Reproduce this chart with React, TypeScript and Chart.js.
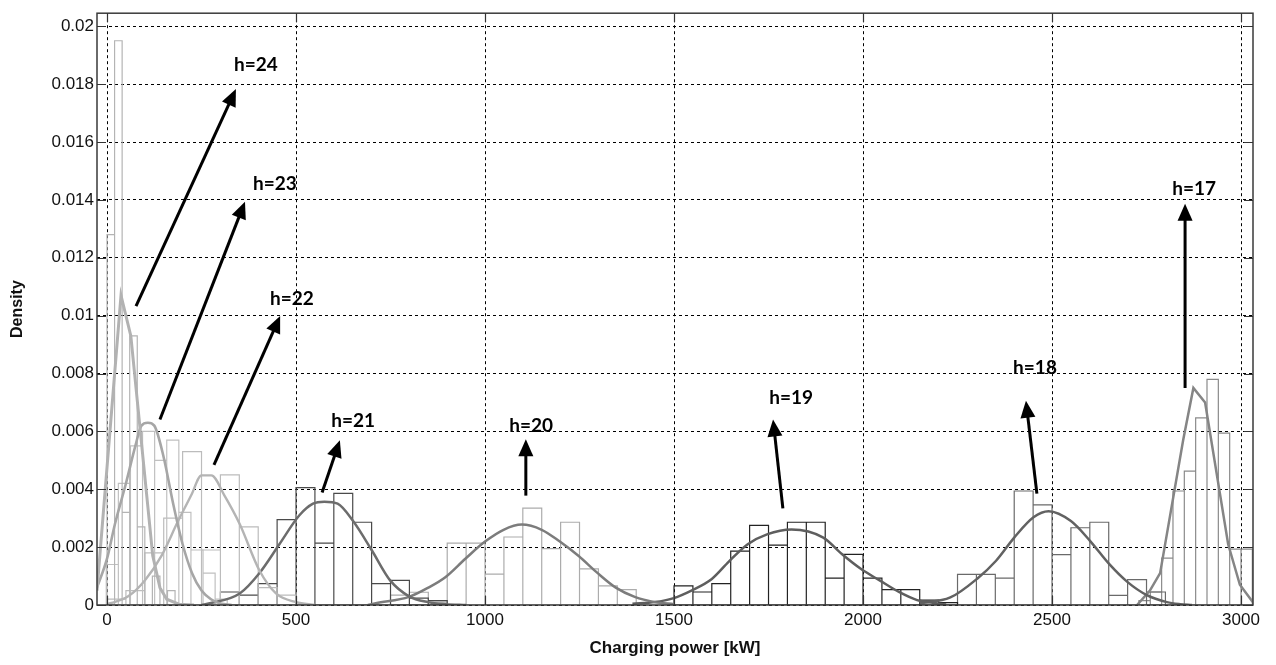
import { useEffect, useRef } from 'react';
import { Chart, registerables } from 'chart.js';

Chart.register(...registerables);

// Axis ranges and ticks
const X_MIN = -26.5;
const X_MAX = 3031.7;
const Y_MIN = 0;
const Y_MAX = 0.020453;

const xTickValues = [0, 500, 1000, 1500, 2000, 2500, 3000];
const xTickLabels = ['0', '500', '1000', '1500', '2000', '2500', '3000'];
const yTickValues = [0, 0.002, 0.004, 0.006, 0.008, 0.01, 0.012, 0.014, 0.016, 0.018, 0.02];
const yTickLabels = ['0', '0.002', '0.004', '0.006', '0.008', '0.01', '0.012', '0.014', '0.016', '0.018', '0.02'];

// Histograms per hour: first bin edge [kW], bin width [kW], densities
const hist24Start = 0;
const hist24Width = 20;
const hist24 = [0.0128, 0.0195, 0.0032, 0.0093, 0.0027, 0.0, 0.001, 0.0, 0.0005];

const hist23Start = -2;
const hist23Width = 32;
const hist23 = [0.0014, 0.0042, 0.0055, 0.006, 0.005, 0.0057, 0.0032, 0.0019, 0.0011, 0.0002];

const hist22Start = 0;
const hist22Width = 50;
const hist22 = [0.0002, 0.0005, 0.0018, 0.003, 0.0053, 0.0019, 0.0045, 0.0027, 0.0006, 0.00034];

const hist21Start = 300;
const hist21Width = 50;
const hist21 = [0.00045, 0.00034, 0.00074, 0.00295, 0.00406, 0.00214, 0.00386, 0.00286, 0.00074, 0.00085, 0.00024, 0.00015];

const hist20Start = 750;
const hist20Width = 50;
const hist20 = [0.00034, 0.00044, 0.0001, 0.00214, 0.00214, 0.00107, 0.00235, 0.00335, 0.00195, 0.00286, 0.00125, 0.00066, 0.00053];

const hist19Start = 1500;
const hist19Width = 50;
const hist19 = [0.00066, 0.00045, 0.00074, 0.00186, 0.00275, 0.00207, 0.00286, 0.00286, 0.00093, 0.00175, 0.00093, 0.00053, 0.00053, 0.00017, 0.00008];

const hist18Start = 2250;
const hist18Width = 50;
const hist18 = [0.00106, 0.00106, 0.00093, 0.00394, 0.00346, 0.00174, 0.00267, 0.00286, 0.00033, 0.00088, 0.00045];

const hist17Start = 2730;
const hist17Width = 30;
const hist17 = [0.00015, 0.00045, 0.00162, 0.00394, 0.00463, 0.00647, 0.0078, 0.00594, 0.00193, 0.00193];

// Fitted density curves per hour
const curve24X = [-26.5, 37, 63, 121, 140, 158, 190, 230];
const curve24Y = [0.0005, 0.0107, 0.0093, 0.0017, 0.0006, 0.0002, 0.00003, 0.0];

const curve23X = [-26.5, 0, 21, 50, 75, 91, 108, 125, 150, 175, 200, 225, 250, 275, 300, 330];
const curve23Y = [0.0006, 0.0016, 0.0028, 0.0042, 0.0055, 0.0062, 0.0063, 0.0062, 0.0051, 0.0035, 0.0021, 0.0011, 0.0005, 0.0002, 0.00005, 0.0];

const curve22X = [0, 12, 56, 100, 144, 188, 223, 250, 276, 310, 351, 403, 447, 500, 550];
const curve22Y = [0.00003, 0.00007, 0.0003, 0.00085, 0.0017, 0.0029, 0.0038, 0.00448, 0.00448, 0.0038, 0.0028, 0.0012, 0.0004, 0.0001, 0.0];

const curve21X = [250, 272, 351, 403, 456, 509, 545, 575, 610, 651, 700, 749, 799, 849, 895, 950];
const curve21Y = [0.0, 0.00006, 0.0004, 0.0011, 0.0021, 0.0031, 0.0035, 0.00357, 0.0035, 0.0029, 0.0019, 0.00085, 0.0003, 0.0001, 0.00003, 0.0];

const curve20X = [690, 711, 799, 850, 895, 948, 1001, 1049, 1097, 1150, 1197, 1247, 1298, 1346, 1396, 1449, 1500];
const curve20Y = [0.0, 0.00006, 0.00028, 0.0006, 0.00096, 0.0016, 0.0022, 0.0026, 0.00278, 0.0026, 0.0022, 0.0017, 0.0011, 0.0006, 0.00028, 0.0001, 0.00003];

const curve19X = [1390, 1449, 1497, 1546, 1600, 1645, 1695, 1746, 1811, 1895, 1944, 1994, 2044, 2095, 2143, 2170, 2220];
const curve19Y = [0.00004, 0.0001, 0.00023, 0.0005, 0.0009, 0.0015, 0.0021, 0.00244, 0.00261, 0.00233, 0.00176, 0.00125, 0.00085, 0.00045, 0.00017, 0.0001, 0.00002];

const curve18X = [2150, 2231, 2302, 2352, 2400, 2451, 2491, 2550, 2601, 2651, 2700, 2751, 2804, 2839, 2870];
const curve18Y = [0.00006, 0.00026, 0.00091, 0.00153, 0.00233, 0.00303, 0.00324, 0.0029, 0.00221, 0.00142, 0.00079, 0.00034, 0.0001, 0.00003, 0.0];

const curve17X = [2725, 2759, 2786, 2847, 2874, 2905, 2966, 2997, 3031];
const curve17Y = [0.0, 0.0005, 0.0011, 0.0057, 0.0075, 0.007, 0.0021, 0.0007, 0.0001];

// Hour labels with arrows, in data units
const arrowLabels = ['h=24', 'h=23', 'h=22', 'h=21', 'h=20', 'h=19', 'h=18', 'h=17'];
const arrowTailX = [76.7, 140, 283, 569, 1108, 1788, 2460, 2852];
const arrowTailY = [0.01033, 0.00641, 0.00484, 0.00389, 0.00378, 0.00334, 0.00385, 0.0075];
const arrowTipX = [341, 365, 458, 616, 1108, 1762, 2431, 2852];
const arrowTipY = [0.01783, 0.01394, 0.00999, 0.00569, 0.00573, 0.00641, 0.00706, 0.01387];
const labelX = [394, 444, 489, 651, 1122, 1810, 2455, 2876];
const labelY = [0.01868, 0.01456, 0.01057, 0.00637, 0.0062, 0.00716, 0.00818, 0.01439];

type Pt = { x: number; y: number };

function histOutline(start: number, width: number, heights: number[]): Pt[] {
  const pts: Pt[] = [];
  heights.forEach((h, i) => {
    const a = start + i * width;
    const b = a + width;
    pts.push({ x: a, y: 0 }, { x: a, y: h }, { x: b, y: h }, { x: b, y: 0 });
  });
  pts.push({ x: start, y: 0 });
  return pts;
}

function zip(xs: number[], ys: number[]): Pt[] {
  return xs.map((x, i) => ({ x, y: ys[i] }));
}

function histDataset(pts: Pt[], color: string) {
  return {
    type: 'line' as const,
    data: pts,
    borderColor: color,
    borderWidth: 1.2,
    pointRadius: 0,
    tension: 0,
    fill: false,
    order: 2,
  };
}

function curveDataset(pts: Pt[], color: string, smooth: boolean, width = 2.5) {
  return {
    type: 'line' as const,
    data: pts,
    borderColor: color,
    borderWidth: width,
    pointRadius: 0,
    tension: 0,
    cubicInterpolationMode: smooth ? ('monotone' as const) : ('default' as const),
    fill: false,
    order: 1,
  };
}

const decorPlugin = {
  id: 'decor',
  afterDatasetsDraw(chart: any) {
    const { ctx, chartArea, scales } = chart;
    const xs = scales.x;
    const ys = scales.y;
    const { left, right, top, bottom } = chartArea;
    ctx.save();

    // frame
    ctx.strokeStyle = '#3a3a3a';
    ctx.lineWidth = 1.5;
    ctx.strokeRect(left, top, right - left, bottom - top);

    // inward tick marks
    ctx.lineWidth = 1.2;
    ctx.strokeStyle = '#333';
    const tl = 9;
    yTickValues.forEach((v) => {
      const py = Math.round(ys.getPixelForValue(v)) + 0.5;
      ctx.beginPath();
      ctx.moveTo(left, py);
      ctx.lineTo(left + tl, py);
      ctx.moveTo(right, py);
      ctx.lineTo(right - tl, py);
      ctx.stroke();
    });
    xTickValues.forEach((v) => {
      const px = Math.round(xs.getPixelForValue(v)) + 0.5;
      ctx.beginPath();
      ctx.moveTo(px, bottom);
      ctx.lineTo(px, bottom - tl);
      ctx.moveTo(px, top);
      ctx.lineTo(px, top + tl);
      ctx.stroke();
    });

    // arrows and hour labels
    ctx.fillStyle = '#000';
    ctx.strokeStyle = '#000';
    arrowLabels.forEach((txt, i) => {
      const x0 = xs.getPixelForValue(arrowTailX[i]);
      const y0 = ys.getPixelForValue(arrowTailY[i]);
      const x1 = xs.getPixelForValue(arrowTipX[i]);
      const y1 = ys.getPixelForValue(arrowTipY[i]);
      const dx = x1 - x0;
      const dy = y1 - y0;
      const len = Math.hypot(dx, dy);
      const ux = dx / len;
      const uy = dy / len;
      const headLen = 17;
      const headHalf = 7.5;
      const bx = x1 - ux * headLen;
      const by = y1 - uy * headLen;
      ctx.lineWidth = 3;
      ctx.beginPath();
      ctx.moveTo(x0, y0);
      ctx.lineTo(bx + ux * 2, by + uy * 2);
      ctx.stroke();
      ctx.beginPath();
      ctx.moveTo(x1, y1);
      ctx.lineTo(bx - uy * headHalf, by + ux * headHalf);
      ctx.lineTo(bx + uy * headHalf, by - ux * headHalf);
      ctx.closePath();
      ctx.fill();

      ctx.font = 'bold 19px Lato, "Open Sans", sans-serif';
      ctx.textAlign = 'center';
      ctx.textBaseline = 'middle';
      ctx.fillText(txt, xs.getPixelForValue(labelX[i]), ys.getPixelForValue(labelY[i]));
    });
    ctx.restore();
  },
};

export default function App() {
  const canvasRef = useRef<HTMLCanvasElement | null>(null);

  useEffect(() => {
    const canvas = canvasRef.current;
    if (!canvas) return;

    const datasets: any[] = [
      curveDataset(zip(curve24X, curve24Y), '#b2b2b2', false, 3),
      curveDataset(zip(curve23X, curve23Y), '#a6a6a6', true, 2.6),
      curveDataset(zip(curve22X, curve22Y), '#b4b4b4', true, 2.4),
      curveDataset(zip(curve21X, curve21Y), '#6c6c6c', true),
      curveDataset(zip(curve20X, curve20Y), '#7c7c7c', true),
      curveDataset(zip(curve19X, curve19Y), '#5e5e5e', true),
      curveDataset(zip(curve18X, curve18Y), '#626262', true),
      curveDataset(zip(curve17X, curve17Y), '#858585', false),
      histDataset(histOutline(hist24Start, hist24Width, hist24), '#b4b4b4'),
      histDataset(histOutline(hist23Start, hist23Width, hist23), '#c0c0c0'),
      histDataset(histOutline(hist22Start, hist22Width, hist22), '#bcbcbc'),
      histDataset(histOutline(hist21Start, hist21Width, hist21), '#4a4a4a'),
      histDataset(histOutline(hist20Start, hist20Width, hist20), '#acacac'),
      histDataset(histOutline(hist19Start, hist19Width, hist19), '#222222'),
      histDataset(histOutline(hist18Start, hist18Width, hist18), '#6a6a6a'),
      histDataset(histOutline(hist17Start, hist17Width, hist17), '#8a8a8a'),
    ];

    const tickFont = { family: '"Liberation Sans", Arial, sans-serif', size: 17 };

    const chart = new Chart(canvas, {
      type: 'line',
      data: { datasets },
      plugins: [decorPlugin],
      options: {
        animation: false,
        responsive: false,
        devicePixelRatio: 1,
        events: [],
        layout: { padding: { left: 0, top: 5, right: 23, bottom: 0 } },
        plugins: {
          legend: { display: false },
          tooltip: { enabled: false },
        },
        scales: {
          x: {
            type: 'linear',
            min: X_MIN,
            max: X_MAX,
            afterFit: (scale: any) => {
              scale.height = 60;
            },
            afterBuildTicks: (scale: any) => {
              scale.ticks = xTickValues.map((v) => ({ value: v }));
            },
            ticks: {
              autoSkip: false,
              maxRotation: 0,
              padding: 5,
              color: '#111',
              font: tickFont,
              callback: (_v: any, i: number) => xTickLabels[i],
            },
            grid: { color: '#000', lineWidth: 1, drawTicks: false },
            border: { display: false, dash: [3, 3] },
            title: {
              display: true,
              text: 'Charging power [kW]',
              color: '#111',
              font: { family: '"Liberation Sans", Arial, sans-serif', size: 17, weight: 'bold' },
              padding: { top: 0, bottom: 6 },
            },
          },
          y: {
            type: 'linear',
            min: Y_MIN,
            max: Y_MAX,
            afterFit: (scale: any) => {
              scale.width = 97;
            },
            afterBuildTicks: (scale: any) => {
              scale.ticks = yTickValues.map((v) => ({ value: v }));
            },
            ticks: {
              autoSkip: false,
              padding: 3,
              color: '#111',
              font: tickFont,
              callback: (_v: any, i: number) => yTickLabels[i],
            },
            grid: { color: '#000', lineWidth: 1, drawTicks: false },
            border: { display: false, dash: [3, 3] },
            title: {
              display: true,
              text: 'Density',
              color: '#111',
              font: { family: '"Liberation Sans", Arial, sans-serif', size: 16, weight: 'bold' },
              padding: { top: 8, bottom: 0 },
            },
          },
        },
      } as any,
    });

    return () => chart.destroy();
  }, []);

  return (
    <div style={{ position: 'absolute', left: 0, top: 0, width: 1276, height: 665, background: '#fff' }}>
      <canvas ref={canvasRef} width={1276} height={665} style={{ display: 'block' }} />
    </div>
  );
}
